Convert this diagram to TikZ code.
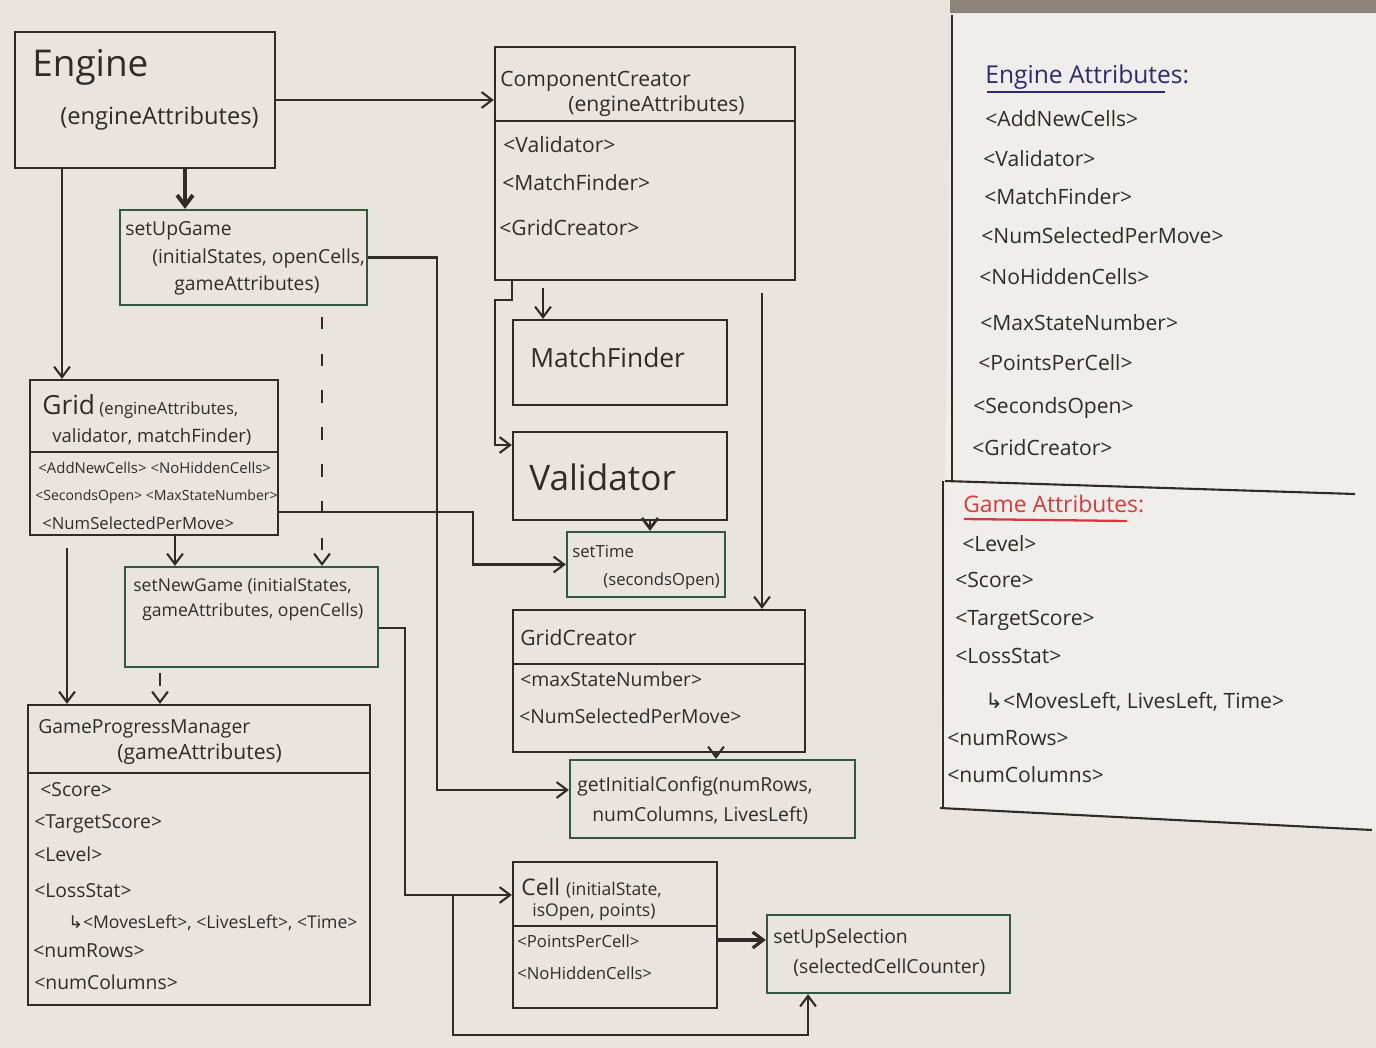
\documentclass[tikz,border=0pt]{standalone}
\usepackage{fontspec}
\setmainfont{Open Sans}
\newfontfamily\symf{DejaVu Sans}
\usetikzlibrary{arrows.meta,fit}
\definecolor{ink}{HTML}{2F2B28}
\definecolor{gink}{HTML}{2F5A3E}
\definecolor{bink}{HTML}{2C2B70}
\definecolor{rink}{HTML}{D63B3B}
\definecolor{paper}{HTML}{E9E5DE}
\definecolor{paperb}{HTML}{F0EEEA}
\definecolor{band}{HTML}{8C847B}
\newcommand{\fs}[1]{\fontsize{#1}{#1}\selectfont}
\begin{document}
\begin{tikzpicture}[x=0.02cm,y=-0.02cm,
  box/.style={draw=ink, line width=1.3pt, inner sep=0pt},
  gbox/.style={draw=gink, line width=1.3pt, inner sep=0pt},
  t/.style={anchor=base west, inner sep=0pt, text=ink, font=\fs{12}},
  arr/.style={draw=ink, line width=1.2pt, -{Straight Barb[length=6pt,width=9pt]}},
  dashline/.style={dash pattern=on 7pt off 14pt},
  frame/.style={draw=ink, line width=1.2pt}]
\useasboundingbox (0,0) rectangle (1376,1048);
\fill[paper] (0,0) rectangle (1376,1048);
\fill[paperb] (952,14) -- (1376,14) -- (1376,832) -- (940,808) -- cycle;
\fill[band] (950,0) rectangle (1376,13);

% helper coordinates
\foreach \v in {62,67,160,175,185,322,405,437,453,473,495,512,543,650,716,762,808}{\coordinate (x\v) at (\v,0);}
\foreach \v in {293,300,445,512,548,628,790,895,940,1035}{\coordinate (y\v) at (0,\v);}

% ---------- boxes ----------
\node[box, fit={(15,32) (275,168)}] (engine) {};
\node[t, font=\fs{21}] (engT) at (32,76) {Engine};
\node[t, font=\fs{13.5}] (engA) at (60,124) {(engineAttributes)};

\node[gbox, fit={(120,210) (367,305)}] (sug) {};
\node[t, font=\fs{11}] (sugT) at (125,235) {setUpGame};
\node[t, font=\fs{11}] (sugA) at (152,263) {(initialStates, openCells,};
\node[t, font=\fs{11}] (sugB) at (174,290) {gameAttributes)};

\node[box, fit={(495,47) (795,280)}] (cc) {};
\draw[frame] (495,121) -- (795,121);
\node[t, font=\fs{12}] (ccT) at (500,86) {ComponentCreator};
\node[t, font=\fs{12}] (ccA) at (568,111) {(engineAttributes)};
\node[t, font=\fs{12}] (ccV) at (503,152) {<Validator>};
\node[t, font=\fs{12}] (ccM) at (502,190) {<MatchFinder>};
\node[t, font=\fs{12}] (ccG) at (499,235) {<GridCreator>};

\node[box, fit={(513,320) (727,405)}] (mf) {};
\node[t, font=\fs{15}] (mfT) at (530,367) {MatchFinder};

\node[box, fit={(513,432) (727,520)}] (val) {};
\node[t, font=\fs{20}] (valT) at (529,490) {Validator};

\node[gbox, fit={(567,532) (725,597)}] (st) {};
\node[t, font=\fs{9.5}] (stT) at (572,557) {setTime};
\node[t, font=\fs{9.5}] (stA) at (603,585) {(secondsOpen)};

\node[box, fit={(30,380) (278,535)}] (grid) {};
\draw[frame] (30,452) -- (278,452);
\node[t, font=\fs{9.5}] (gridT) at (42,414) {{\fs{15}Grid} (engineAttributes,};
\node[t, font=\fs{10.5}] (gridA) at (52,442) {validator, matchFinder)};
\node[t, font=\fs{8.5}] (grid1) at (38,473) {<AddNewCells> <NoHiddenCells>};
\node[t, font=\fs{8}] (grid2) at (35,500) {<SecondsOpen> <MaxStateNumber>};
\node[t, font=\fs{9.5}] (grid3) at (42,529) {<NumSelectedPerMove>};

\node[gbox, fit={(125,567) (378,667)}] (sng) {};
\node[t, font=\fs{10}] (sngT) at (133,591) {setNewGame (initialStates,};
\node[t, font=\fs{10}] (sngA) at (142,616) {gameAttributes, openCells)};

\node[box, fit={(28,705) (370,1005)}] (gpm) {};
\draw[frame] (28,773) -- (370,773);
\node[t, font=\fs{11}] (gpmT) at (38,733) {GameProgressManager};
\node[t, font=\fs{12}] (gpmA) at (117,759) {(gameAttributes)};
\node[t, font=\fs{11}] (gpm1) at (40,796) {<Score>};
\node[t, font=\fs{11}] (gpm2) at (34,828) {<TargetScore>};
\node[t, font=\fs{11}] (gpm3) at (34,861) {<Level>};
\node[t, font=\fs{11}] (gpm4) at (34,897) {<LossStat>};
\node[t, font=\fs{10}] (gpm5) at (68,928) {{\symf ↳}<MovesLeft>, <LivesLeft>, <Time>};
\node[t, font=\fs{11}] (gpm6) at (33,957) {<numRows>};
\node[t, font=\fs{11}] (gpm7) at (34,989) {<numColumns>};

\node[box, fit={(513,610) (805,752)}] (gc) {};
\draw[frame] (513,664) -- (805,664);
\node[t, font=\fs{12}] (gcT) at (520,645) {GridCreator};
\node[t, font=\fs{11}] (gc1) at (520,686) {<maxStateNumber>};
\node[t, font=\fs{11}] (gc2) at (519,723) {<NumSelectedPerMove>};

\node[gbox, fit={(570,760) (855,838)}] (gic) {};
\node[t, font=\fs{11}] (gicT) at (577,791) {getInitialConfig(numRows,};
\node[t, font=\fs{11}] (gicA) at (592,821) {numColumns, LivesLeft)};

\node[box, fit={(513,862) (717,1008)}] (cell) {};
\draw[frame] (513,926) -- (717,926);
\node[t, font=\fs{13}] (cellT) at (521,895) {Cell {\fs{10}(initialState,}};
\node[t, font=\fs{10}] (cellA) at (532,916) {isOpen, points)};
\node[t, font=\fs{9.5}] (cell1) at (517,947) {<PointsPerCell>};
\node[t, font=\fs{9.5}] (cell2) at (517,979) {<NoHiddenCells>};

\node[gbox, fit={(767,915) (1010,993)}] (sus) {};
\node[t, font=\fs{11}] (susT) at (773,943) {setUpSelection};
\node[t, font=\fs{11}] (susA) at (793,973) {(selectedCellCounter)};

% ---------- right panel ----------
\draw[frame] (952,15) -- (952,482);
\draw[frame] (945,481) -- (1355,494);
\draw[frame] (943,481) -- (943,808);
\draw[frame] (940,808) -- (1372,830);

\node[t, font=\fs{14}, text=bink] (eaT) at (985,83) {Engine Attributes:};
\draw[bink, line width=1.5pt] (987,92) -- (1165,92);
\node[t, font=\fs{12}] (ea1) at (985,126) {<AddNewCells>};
\node[t, font=\fs{12}] (ea2) at (983,166) {<Validator>};
\node[t, font=\fs{12}] (ea3) at (984,204) {<MatchFinder>};
\node[t, font=\fs{12}] (ea4) at (981,243) {<NumSelectedPerMove>};
\node[t, font=\fs{12}] (ea5) at (979,284) {<NoHiddenCells>};
\node[t, font=\fs{12}] (ea6) at (980,330) {<MaxStateNumber>};
\node[t, font=\fs{12}] (ea7) at (978,370) {<PointsPerCell>};
\node[t, font=\fs{12}] (ea8) at (973,413) {<SecondsOpen>};
\node[t, font=\fs{12}] (ea9) at (972,455) {<GridCreator>};

\node[t, font=\fs{13}, text=rink] (gaT) at (963,512) {Game Attributes:};
\draw[rink, line width=1.3pt] (964,519) -- (1127,521);
\node[t, font=\fs{12}] (ga1) at (962,551) {<Level>};
\node[t, font=\fs{12}] (ga2) at (955,587) {<Score>};
\node[t, font=\fs{12}] (ga3) at (955,625) {<TargetScore>};
\node[t, font=\fs{12}] (ga4) at (955,663) {<LossStat>};
\node[t, font=\fs{12}] (ga5) at (985,708) {{\symf ↳}<MovesLeft, LivesLeft, Time>};
\node[t, font=\fs{12}] (ga6) at (947,745) {<numRows>};
\node[t, font=\fs{12}] (ga7) at (947,782) {<numColumns>};

% ---------- connectors ----------
\draw[arr] (engine.east) -- (engine.east -| cc.west);
\draw[arr, line width=2.2pt] (engine.south -| x185) -- (sug.north -| x185);
\draw[arr] (engine.south -| x62) -- (grid.north -| x62);
\draw[arr] (sug.east) -| (x437 |- y790) -- (gic.west |- y790);
\draw[arr, dashline, shorten <=6pt] (sug.south -| x322) -- (sng.north -| x322);
\draw[arr] (cc.south -| x512) -- (x512 |- y300) -- (x495 |- y300) -- (x495 |- y445) -- (val.west |- y445);
\draw[arr, shorten <=4pt] (cc.south -| x543) -- (mf.north -| x543);
\draw[arr] (x762 |- y293) -- (gc.north -| x762);
\draw[arr, line width=1.6pt] (val.south -| x650) -- (st.north -| x650);
\draw[arr] (grid.east |- y512) -- (x473 |- y512) -- (x473 |- st.west) -- (st.west);
\draw[arr] (grid.south -| x175) -- (sng.north -| x175);
\draw[arr] (x67 |- y548) -- (gpm.north -| x67);
\draw[arr, dash pattern=on 7pt off 8pt, shorten <=3pt] (sng.south -| x160) -- (gpm.north -| x160);
\draw[arr] (sng.east |- y628) -- (x405 |- y628) -- (x405 |- y895) -- (cell.west |- y895);
\draw[arr] (gc.south -| x716) -- (gic.north -| x716);
\draw[arr, line width=1.8pt] (cell.east |- y940) -- (sus.west |- y940);
\draw[arr] (x453 |- y895) -- (x453 |- y1035) -- (x808 |- y1035) -- (sus.south -| x808);
\end{tikzpicture}
\end{document}
